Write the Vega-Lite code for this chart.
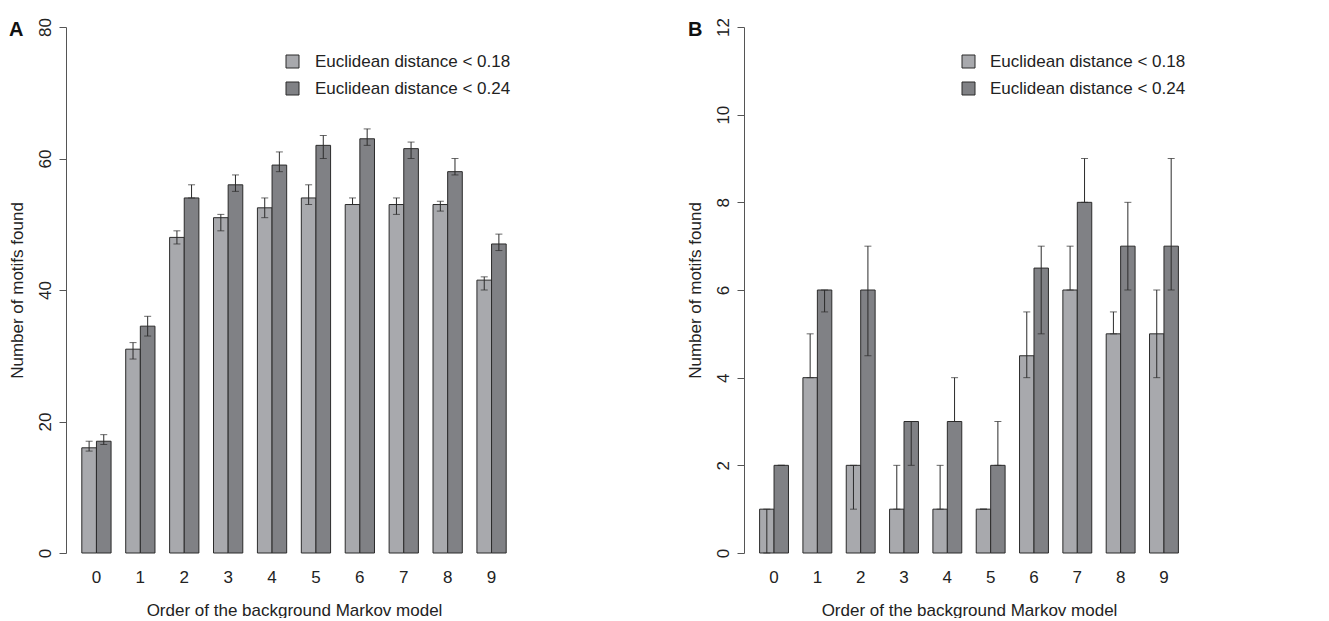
{
  "$schema": "https://vega.github.io/schema/vega-lite/v6.json",
  "background": "white",
  "padding": {"left": 8, "top": 17, "right": 5, "bottom": 0},
  "config": {
    "view": {"stroke": null},
    "font": "Liberation Sans",
    "axis": {"labelFont": "Liberation Sans", "titleFont": "Liberation Sans", "labelFontSize": 17, "titleFontSize": 17, "titleFontWeight": "normal", "labelColor": "#222", "titleColor": "#222", "grid": false},
    "legend": {"labelFont": "Liberation Sans", "labelFontSize": 17, "labelColor": "#222", "labelLimit": 0},
    "title": {"font": "Liberation Sans", "fontSize": 20, "fontWeight": "bold", "color": "#111"}
  },
  "datasets": {
    "a": [
      {"order": "0", "series": "Euclidean distance < 0.18", "value": 16, "lo": 15.5, "hi": 17},
      {"order": "0", "series": "Euclidean distance < 0.24", "value": 17, "lo": 16.5, "hi": 18},
      {"order": "1", "series": "Euclidean distance < 0.18", "value": 31, "lo": 29.5, "hi": 32},
      {"order": "1", "series": "Euclidean distance < 0.24", "value": 34.5, "lo": 33, "hi": 36},
      {"order": "2", "series": "Euclidean distance < 0.18", "value": 48, "lo": 47, "hi": 49},
      {"order": "2", "series": "Euclidean distance < 0.24", "value": 54, "lo": 54, "hi": 56},
      {"order": "3", "series": "Euclidean distance < 0.18", "value": 51, "lo": 49, "hi": 51.5},
      {"order": "3", "series": "Euclidean distance < 0.24", "value": 56, "lo": 55, "hi": 57.5},
      {"order": "4", "series": "Euclidean distance < 0.18", "value": 52.5, "lo": 51, "hi": 54},
      {"order": "4", "series": "Euclidean distance < 0.24", "value": 59, "lo": 58, "hi": 61},
      {"order": "5", "series": "Euclidean distance < 0.18", "value": 54, "lo": 53, "hi": 56},
      {"order": "5", "series": "Euclidean distance < 0.24", "value": 62, "lo": 60, "hi": 63.5},
      {"order": "6", "series": "Euclidean distance < 0.18", "value": 53, "lo": 53, "hi": 54},
      {"order": "6", "series": "Euclidean distance < 0.24", "value": 63, "lo": 62, "hi": 64.5},
      {"order": "7", "series": "Euclidean distance < 0.18", "value": 53, "lo": 51.5, "hi": 54},
      {"order": "7", "series": "Euclidean distance < 0.24", "value": 61.5, "lo": 60, "hi": 62.5},
      {"order": "8", "series": "Euclidean distance < 0.18", "value": 53, "lo": 52, "hi": 53.5},
      {"order": "8", "series": "Euclidean distance < 0.24", "value": 58, "lo": 57.5, "hi": 60},
      {"order": "9", "series": "Euclidean distance < 0.18", "value": 41.5, "lo": 40, "hi": 42},
      {"order": "9", "series": "Euclidean distance < 0.24", "value": 47, "lo": 46, "hi": 48.5}
    ],
    "b": [
      {"order": "0", "series": "Euclidean distance < 0.18", "value": 1, "lo": 0, "hi": 1},
      {"order": "0", "series": "Euclidean distance < 0.24", "value": 2, "lo": 2, "hi": 2},
      {"order": "1", "series": "Euclidean distance < 0.18", "value": 4, "lo": 4, "hi": 5},
      {"order": "1", "series": "Euclidean distance < 0.24", "value": 6, "lo": 5.5, "hi": 6},
      {"order": "2", "series": "Euclidean distance < 0.18", "value": 2, "lo": 1, "hi": 2},
      {"order": "2", "series": "Euclidean distance < 0.24", "value": 6, "lo": 4.5, "hi": 7},
      {"order": "3", "series": "Euclidean distance < 0.18", "value": 1, "lo": 1, "hi": 2},
      {"order": "3", "series": "Euclidean distance < 0.24", "value": 3, "lo": 2, "hi": 3},
      {"order": "4", "series": "Euclidean distance < 0.18", "value": 1, "lo": 1, "hi": 2},
      {"order": "4", "series": "Euclidean distance < 0.24", "value": 3, "lo": 3, "hi": 4},
      {"order": "5", "series": "Euclidean distance < 0.18", "value": 1, "lo": 1, "hi": 1},
      {"order": "5", "series": "Euclidean distance < 0.24", "value": 2, "lo": 2, "hi": 3},
      {"order": "6", "series": "Euclidean distance < 0.18", "value": 4.5, "lo": 4, "hi": 5.5},
      {"order": "6", "series": "Euclidean distance < 0.24", "value": 6.5, "lo": 5, "hi": 7},
      {"order": "7", "series": "Euclidean distance < 0.18", "value": 6, "lo": 6, "hi": 7},
      {"order": "7", "series": "Euclidean distance < 0.24", "value": 8, "lo": 8, "hi": 9},
      {"order": "8", "series": "Euclidean distance < 0.18", "value": 5, "lo": 5, "hi": 5.5},
      {"order": "8", "series": "Euclidean distance < 0.24", "value": 7, "lo": 6, "hi": 8},
      {"order": "9", "series": "Euclidean distance < 0.18", "value": 5, "lo": 4, "hi": 6},
      {"order": "9", "series": "Euclidean distance < 0.24", "value": 7, "lo": 6, "hi": 9}
    ]
  },
  "spacing": 164,
  "resolve": {"scale": {"x": "independent", "y": "independent", "color": "independent", "xOffset": "independent"}, "legend": {"color": "independent"}},
  "hconcat": [
    {
      "width": 456,
      "height": 526,
      "title": {"text": "A", "anchor": "start", "frame": "group", "dx": -57, "dy": 22, "offset": 0},
      "data": {"name": "a"},
      "encoding": {
        "x": {"field": "order", "type": "nominal", "sort": null, "scale": {"paddingInner": 0.3333, "paddingOuter": 0.36},
              "axis": {"labelAngle": 0, "domain": false, "ticks": false, "labelPadding": 16, "title": "Order of the background Markov model", "titlePadding": 17}},
        "xOffset": {"field": "series", "type": "nominal", "sort": null}
      },
      "layer": [
        {
          "mark": {"type": "bar", "stroke": "#2b2b2b", "strokeWidth": 1},
          "encoding": {
            "y": {"field": "value", "type": "quantitative", "scale": {"domain": [0, 80], "nice": false},
                  "axis": {"values": [0, 20, 40, 60, 80], "labelAngle": -90, "tickSize": 7, "tickColor": "#555", "domainColor": "#555", "labelPadding": 5, "title": "Number of motifs found", "titlePadding": 10}},
            "color": {"field": "series", "type": "nominal", "sort": null, "scale": {"range": ["#a8a9ad", "#808185"]},
                      "legend": {"title": null, "orient": "none", "legendX": 218, "legendY": 26, "symbolType": "square", "symbolSize": 169, "symbolStrokeColor": "#2b2b2b", "symbolStrokeWidth": 1, "symbolOpacity": 1, "labelOffset": 14, "rowPadding": 9, "padding": 0}}
          }
        },
        {
          "mark": {"type": "rule", "color": "#2b2b2b", "strokeWidth": 1},
          "encoding": {"y": {"field": "lo", "type": "quantitative"}, "y2": {"field": "hi"}}
        },
        {
          "mark": {"type": "tick", "color": "#2b2b2b", "thickness": 1, "size": 7, "orient": "horizontal"},
          "encoding": {"y": {"field": "lo", "type": "quantitative"}}
        },
        {
          "mark": {"type": "tick", "color": "#2b2b2b", "thickness": 1, "size": 7, "orient": "horizontal"},
          "encoding": {"y": {"field": "hi", "type": "quantitative"}}
        }
      ]
    },
    {
      "width": 450,
      "height": 526,
      "title": {"text": "B", "anchor": "start", "frame": "group", "dx": -56, "dy": 22, "offset": 0},
      "data": {"name": "b"},
      "encoding": {
        "x": {"field": "order", "type": "nominal", "sort": null, "scale": {"paddingInner": 0.3333, "paddingOuter": 0.36},
              "axis": {"labelAngle": 0, "domain": false, "ticks": false, "labelPadding": 16, "title": "Order of the background Markov model", "titlePadding": 17}},
        "xOffset": {"field": "series", "type": "nominal", "sort": null}
      },
      "layer": [
        {
          "mark": {"type": "bar", "stroke": "#2b2b2b", "strokeWidth": 1},
          "encoding": {
            "y": {"field": "value", "type": "quantitative", "scale": {"domain": [0, 12], "nice": false},
                  "axis": {"values": [0, 2, 4, 6, 8, 10, 12], "labelAngle": -90, "tickSize": 7, "tickColor": "#555", "domainColor": "#555", "labelPadding": 5, "title": "Number of motifs found", "titlePadding": 10}},
            "color": {"field": "series", "type": "nominal", "sort": null, "scale": {"range": ["#a8a9ad", "#808185"]},
                      "legend": {"title": null, "orient": "none", "legendX": 216, "legendY": 26, "symbolType": "square", "symbolSize": 169, "symbolStrokeColor": "#2b2b2b", "symbolStrokeWidth": 1, "symbolOpacity": 1, "labelOffset": 13, "rowPadding": 9, "padding": 0}}
          }
        },
        {
          "mark": {"type": "rule", "color": "#2b2b2b", "strokeWidth": 1},
          "encoding": {"y": {"field": "lo", "type": "quantitative"}, "y2": {"field": "hi"}}
        },
        {
          "mark": {"type": "tick", "color": "#2b2b2b", "thickness": 1, "size": 7, "orient": "horizontal"},
          "encoding": {"y": {"field": "lo", "type": "quantitative"}}
        },
        {
          "mark": {"type": "tick", "color": "#2b2b2b", "thickness": 1, "size": 7, "orient": "horizontal"},
          "encoding": {"y": {"field": "hi", "type": "quantitative"}}
        }
      ]
    }
  ]
}
